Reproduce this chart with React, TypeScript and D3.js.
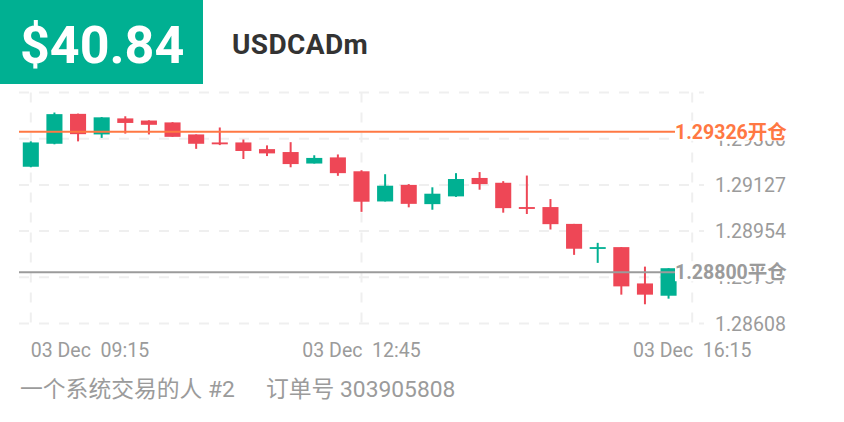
import React from "react";
import * as d3 from "d3";

const opens = [1.29195,1.29281,1.29393,1.29316,1.29376,1.29368,1.29361,1.29316,1.29286,1.29286,1.29261,1.29250,1.29207,1.29230,1.29178,1.29065,1.29127,1.29055,1.29084,1.29153,1.29135,1.29044,1.29044,1.28981,1.28888,1.28894,1.28758,1.28712];
const closes = [1.29286,1.29392,1.29317,1.29380,1.29359,1.29352,1.29307,1.29281,1.29279,1.29254,1.29245,1.29205,1.29228,1.29171,1.29064,1.29124,1.29056,1.29094,1.29149,1.29130,1.29040,1.29037,1.28980,1.28888,1.28894,1.28747,1.28716,1.28815];
const highs = [1.29290,1.29398,1.29394,1.29381,1.29384,1.29369,1.29362,1.29316,1.29342,1.29297,1.29275,1.29287,1.29238,1.29241,1.29182,1.29167,1.29130,1.29118,1.29171,1.29175,1.29141,1.29162,1.29074,1.28981,1.28910,1.28894,1.28821,1.28815];
const lows = [1.29193,1.29279,1.29290,1.29303,1.29319,1.29316,1.29307,1.29262,1.29276,1.29224,1.29235,1.29193,1.29207,1.29161,1.29026,1.29065,1.29043,1.29034,1.29082,1.29109,1.29023,1.29018,1.28960,1.28865,1.28835,1.28716,1.28680,1.28701];

const yTicks = [1.28608, 1.28781, 1.28954, 1.29127, 1.293, 1.29473];
const yTickLabels = ["1.28608", "1.28781", "1.28954", "1.29127", "1.29300", ""];
const xTickIndex = [0, 14, 28];
const xTickLabels = ["03 Dec \u00A009:15", "03 Dec \u00A012:45", "03 Dec \u00A016:15"];

const openPrice = 1.29326;
const openLabel = "1.29326开仓";
const closePrice = 1.288;
const closeLabel = "1.28800平仓";
const profitText = "$40.84";
const symbolText = "USDCADm";
const footerLeft = "一个系统交易的人 #2";
const footerRight = "订单号 303905808";

const GREEN = "#00B092";
const RED = "#EE4756";
const ORANGE = "#FF7843";
const TEXT_GRAY = "#9B9B9B";
const GRID = "#EFEFEF";
const FONT = "Roboto, 'Noto Sans CJK SC', sans-serif";

export default function App() {
  const W = 844, H = 422;
  const x = d3.scaleLinear().domain([-0.5, 28.5]).range([19, 704]);
  const y = d3.scaleLinear().domain([1.28608, 1.29473]).range([323.5, 92.5]);
  const step = x(1) - x(0);
  const bw = step * 0.68;
  const idx = d3.range(opens.length);

  const priceLine = (p: number, label: string, color: string) => {
    const yy = y(p);
    return (
      <g>
        <line x1={19} x2={675} y1={yy} y2={yy} stroke={color} strokeWidth={2} />
        <rect x={675} y={yy - 11} width={118} height={20} fill="#fff" />
        <text x={675} y={yy + 7} fill={color} fontSize={19.5} fontWeight="bold" fontFamily={FONT}>{label}</text>
      </g>
    );
  };

  return (
    <svg width={W} height={H} style={{ position: "absolute", left: 0, top: 0, background: "#fff" }}>
      <rect x={0} y={0} width={W} height={H} fill="#fff" />
      {/* header */}
      <rect x={0} y={0} width={203} height={84} fill={GREEN} />
      <text x={20} y={62.5} fill="#fff" fontSize={52} fontWeight="bold" fontFamily={FONT}>{profitText}</text>
      <text x={232} y={53.5} fill="#333" fontSize={28} letterSpacing={0.4} fontWeight="bold" fontFamily={FONT}>{symbolText}</text>

      {/* grid */}
      {yTicks.map((t, i) => (
        <line key={"h" + i} x1={19} x2={704} y1={y(t)} y2={y(t)} stroke={GRID} strokeWidth={2} strokeDasharray="10 10" />
      ))}
      {xTickIndex.map((t, i) => (
        <line key={"v" + i} x1={x(t)} x2={x(t)} y1={y(1.29473)} y2={y(1.28608)} stroke={GRID} strokeWidth={2} strokeDasharray="10 10" />
      ))}

      {/* y labels */}
      {yTicks.map((t, i) => (
        <text key={"yl" + i} x={715} y={y(t) + 7} fill={TEXT_GRAY} fontSize={19.5} fontFamily={FONT}>{yTickLabels[i]}</text>
      ))}

      {/* x labels */}
      {xTickIndex.map((t, i) => (
        <text key={"xl" + i} x={x(t)} y={357} textAnchor={i === 0 ? "start" : "middle"} fill={TEXT_GRAY} fontSize={19.5} fontFamily={FONT}>{xTickLabels[i]}</text>
      ))}

      {/* candles */}
      {idx.map((i) => {
        const up = closes[i] >= opens[i];
        const c = up ? GREEN : RED;
        const top = y(Math.max(opens[i], closes[i]));
        const bot = y(Math.min(opens[i], closes[i]));
        const cx = x(i);
        return (
          <g key={"c" + i}>
            <line x1={cx} x2={cx} y1={y(highs[i])} y2={y(lows[i])} stroke={c} strokeWidth={2} />
            <rect x={cx - bw / 2} y={top} width={bw} height={Math.max(bot - top, 1.8)} fill={c} />
          </g>
        );
      })}

      {priceLine(openPrice, openLabel, ORANGE)}
      {priceLine(closePrice, closeLabel, TEXT_GRAY)}

      {/* footer */}
      <text x={20} y={397} fill={TEXT_GRAY} fontSize={22.8} fontFamily={FONT}>{footerLeft}</text>
      <text x={266} y={397} fill={TEXT_GRAY} fontSize={22.8} fontFamily={FONT}>{footerRight}</text>
    </svg>
  );
}
